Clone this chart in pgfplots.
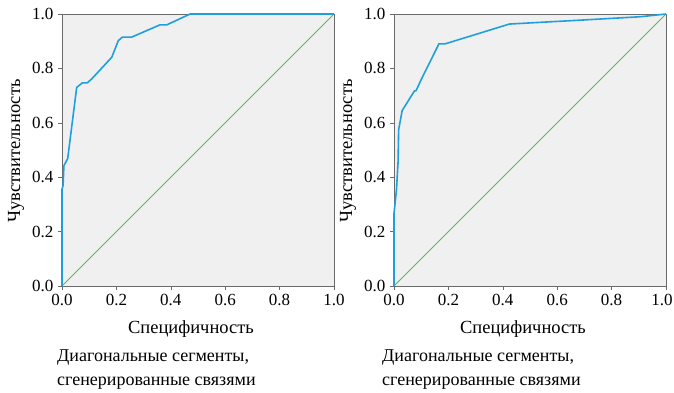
\documentclass[border=0pt]{standalone}
\usepackage{fontspec}
\setmainfont{Liberation Serif}
\usepackage{pgfplots}
\pgfplotsset{compat=1.18}
\definecolor{roc}{HTML}{1FA0DC}
\definecolor{diag}{HTML}{5DB85D}
\definecolor{bgc}{HTML}{F0F0F0}
\definecolor{frm}{HTML}{6A6A6A}
\pgfplotsset{
  rocaxis/.style={
    scale only axis, width=272pt, height=272pt,
    xmin=0, xmax=1, ymin=0, ymax=1,
    axis background/.style={fill=bgc},
    axis line style={frm, line width=0.8pt},
    xtick={0,0.2,...,1.0}, ytick={0,0.2,...,1.0},
    tick align=outside, tick style={frm, line width=0.6pt}, major tick length=4pt,
    xtick pos=bottom, ytick pos=left,
    /pgf/number format/assume math mode=true,
    /pgf/number format/.cd, fixed, fixed zerofill, precision=1, /pgfplots/.cd,
    tick label style={font=\fontsize{17}{19}\selectfont},
    xticklabel style={yshift=-1pt},
    yticklabel style={xshift=-1pt},
    clip=false,
  }
}
\begin{document}
\begin{tikzpicture}
\path[use as bounding box] (0,0) rectangle (674pt,-392pt);
% left chart
\begin{axis}[rocaxis, at={(62pt,-286pt)}, anchor=south west]
\addplot[diag, line width=0.8pt] coordinates {(0,0) (1,1)};
\addplot[roc, line width=1.6pt] coordinates {
(0,0) (0,0.355) (0.004,0.37) (0.007,0.442) (0.021,0.469) (0.054,0.730)
(0.075,0.747) (0.093,0.747) (0.109,0.761) (0.183,0.841) (0.207,0.902)
(0.222,0.915) (0.256,0.915) (0.360,0.960) (0.385,0.960) (0.471,1.0) (1,1)};
\end{axis}
% right chart
\begin{axis}[rocaxis, at={(394pt,-286pt)}, anchor=south west,
  xtick={0,0.2,...,0.8}, extra x ticks={1},
  extra x tick style={xticklabel style={xshift=-4pt}}]
\addplot[diag, line width=0.8pt] coordinates {(0,0) (1,1)};
\addplot[roc, line width=1.6pt] coordinates {
(0,0) (0,0.267) (0.009,0.353) (0.015,0.457) (0.017,0.574) (0.030,0.645)
(0.075,0.717) (0.081,0.718) (0.101,0.761) (0.165,0.890) (0.187,0.890)
(0.424,0.963) (0.512,0.968) (0.660,0.976) (0.906,0.990) (1,1)};
\end{axis}
\begin{scope}[every node/.style={font=\fontsize{18.5}{20}\selectfont, inner sep=0pt}]
\node[rotate=90] at (16pt,-151pt) {Чувствительность};
\node[rotate=90] at (348pt,-151pt) {Чувствительность};
\node at (191pt,-329pt) {Специфичность};
\node at (523pt,-329pt) {Специфичность};
\node[anchor=north west, align=left, font=\fontsize{18}{24}\selectfont] at (57pt,-350pt) {Диагональные сегменты,\\сгенерированные связями};
\node[anchor=north west, align=left, font=\fontsize{18}{24}\selectfont] at (382pt,-350pt) {Диагональные сегменты,\\сгенерированные связями};
\end{scope}
\end{tikzpicture}
\end{document}
